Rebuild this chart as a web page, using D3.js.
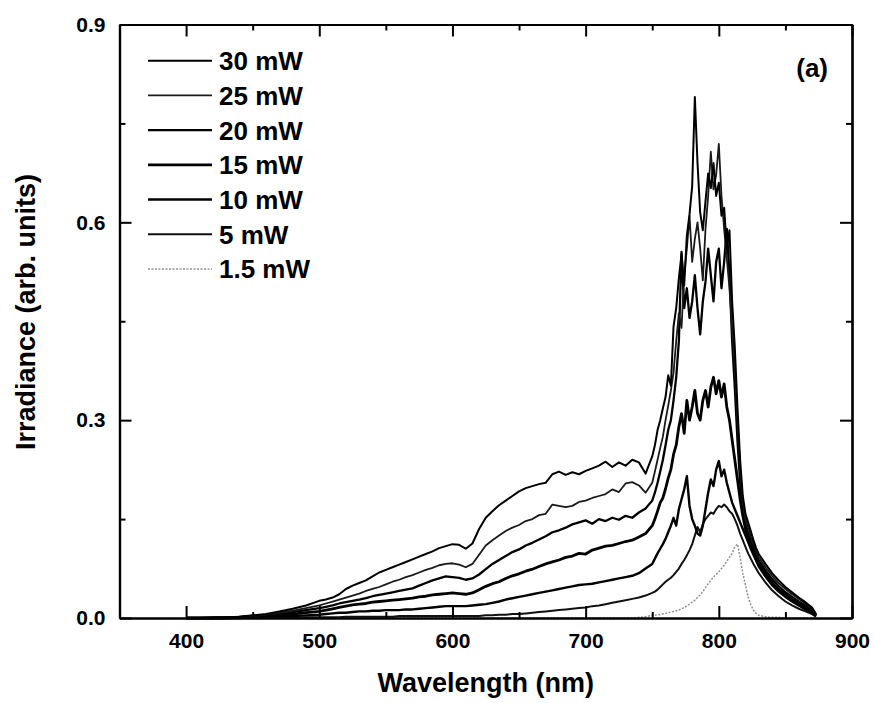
<!DOCTYPE html>
<html>
<head>
<meta charset="utf-8">
<script src="https://cdn.jsdelivr.net/npm/d3@7"></script>
<style>
  body { margin: 0; background: #fff; }
  text { font-family: 'Liberation Sans', Arial, sans-serif; font-weight: bold; fill: #000; }
</style>
</head>
<body>
<div class="chart"></div>
<script>
// wavelength grid (nm)
const wavelengths = [400,410,420,430,440,450,460,470,480,490,
  500,505,510,515,520,525,530,535,540,545,550,555,560,565,570,575,580,585,590,595,
  600,605,610,615,620,625,630,635,640,645,650,655,660,665,670,675,680,685,690,695,
  700,705,710,715,720,725,730,735,740,745,
  750,752,754,756,758,760,762,764,766,768,770,772,774,776,778,780,782,784,786,788,
  790,792,794,796,798,800,802,804,806,808,810,812,814,816,818,820,822,824,826,828,830,
  835,840,845,850,855,860,865,870,873];

const p30 = [0,0,0.001,0.001,0.002,0.004,0.006,0.010,0.014,0.019,
  0.026,0.028,0.031,0.036,0.044,0.049,0.053,0.057,0.063,0.069,
  0.073,0.077,0.081,0.085,0.089,0.093,0.097,0.101,0.106,0.109,
  0.112,0.111,0.105,0.113,0.135,0.152,0.162,0.171,0.178,0.185,
  0.192,0.197,0.200,0.203,0.205,0.218,0.222,0.217,0.221,0.218,
  0.223,0.227,0.231,0.237,0.229,0.236,0.231,0.240,0.236,0.219,
  0.245,0.262,0.285,0.300,0.318,0.335,0.368,0.352,0.442,0.470,
  0.515,0.552,0.505,0.580,0.612,0.655,0.790,0.690,0.615,0.588,
  0.632,0.674,0.652,0.690,0.640,0.660,0.610,0.622,0.560,0.588,
  0.480,0.410,0.320,0.240,0.185,0.158,0.145,0.132,0.118,0.106,0.097,
  0.082,0.068,0.057,0.047,0.039,0.031,0.024,0.016,0.006];

const p25 = [0,0,0,0.001,0.002,0.003,0.005,0.008,0.011,0.015,
  0.019,0.022,0.025,0.028,0.031,0.034,0.037,0.041,0.044,0.047,
  0.051,0.055,0.058,0.062,0.065,0.069,0.073,0.076,0.080,0.082,
  0.083,0.081,0.077,0.082,0.096,0.110,0.118,0.125,0.132,0.137,
  0.141,0.147,0.150,0.156,0.158,0.172,0.170,0.168,0.170,0.176,
  0.178,0.182,0.185,0.188,0.195,0.191,0.204,0.206,0.201,0.190,
  0.205,0.222,0.240,0.258,0.275,0.300,0.322,0.345,0.372,0.420,
  0.462,0.440,0.520,0.560,0.610,0.540,0.575,0.600,0.560,0.512,
  0.590,0.640,0.707,0.650,0.672,0.719,0.640,0.590,0.545,0.500,
  0.440,0.380,0.300,0.225,0.175,0.150,0.138,0.124,0.112,0.101,0.092,
  0.077,0.064,0.053,0.044,0.036,0.029,0.022,0.014,0.005];

const p20 = [0,0,0,0.001,0.001,0.002,0.004,0.006,0.009,0.012,
  0.015,0.017,0.019,0.022,0.024,0.026,0.028,0.030,0.033,0.035,
  0.037,0.039,0.041,0.043,0.045,0.049,0.053,0.057,0.060,0.063,
  0.062,0.061,0.058,0.060,0.066,0.074,0.082,0.088,0.094,0.100,
  0.104,0.110,0.114,0.119,0.124,0.130,0.133,0.137,0.142,0.145,
  0.148,0.143,0.150,0.147,0.152,0.149,0.155,0.152,0.160,0.166,
  0.178,0.190,0.205,0.222,0.240,0.262,0.285,0.300,0.330,0.365,
  0.420,0.555,0.470,0.500,0.455,0.480,0.520,0.470,0.430,0.480,
  0.510,0.560,0.520,0.480,0.540,0.560,0.500,0.540,0.590,0.520,
  0.420,0.350,0.270,0.205,0.165,0.142,0.130,0.117,0.106,0.096,0.087,
  0.072,0.059,0.048,0.039,0.032,0.025,0.019,0.012,0.004];

const p15 = [0,0,0,0,0.001,0.002,0.003,0.004,0.006,0.008,
  0.010,0.012,0.014,0.016,0.018,0.020,0.021,0.022,0.024,0.025,
  0.026,0.027,0.028,0.029,0.030,0.032,0.033,0.035,0.036,0.037,
  0.038,0.037,0.036,0.038,0.043,0.048,0.052,0.055,0.060,0.064,
  0.067,0.071,0.074,0.078,0.082,0.085,0.088,0.092,0.094,0.098,
  0.097,0.103,0.106,0.109,0.110,0.113,0.116,0.118,0.123,0.128,
  0.140,0.150,0.162,0.175,0.182,0.196,0.212,0.225,0.248,0.262,
  0.290,0.310,0.280,0.330,0.300,0.320,0.345,0.310,0.300,0.330,
  0.345,0.320,0.350,0.365,0.340,0.360,0.335,0.355,0.320,0.300,
  0.270,0.240,0.210,0.180,0.155,0.135,0.122,0.110,0.100,0.090,0.081,
  0.067,0.054,0.043,0.035,0.028,0.022,0.016,0.010,0.004];

const p10 = [0,0,0,0,0,0.001,0.001,0.002,0.003,0.004,
  0.005,0.006,0.007,0.008,0.008,0.009,0.010,0.010,0.011,0.011,
  0.012,0.012,0.012,0.013,0.013,0.014,0.015,0.016,0.017,0.018,
  0.018,0.018,0.018,0.019,0.020,0.021,0.023,0.025,0.028,0.030,
  0.032,0.034,0.036,0.038,0.040,0.042,0.044,0.046,0.048,0.050,
  0.051,0.052,0.054,0.056,0.058,0.060,0.062,0.064,0.068,0.075,
  0.082,0.090,0.098,0.105,0.112,0.120,0.130,0.140,0.152,0.140,
  0.165,0.180,0.195,0.215,0.170,0.150,0.140,0.128,0.125,0.140,
  0.165,0.190,0.210,0.200,0.225,0.238,0.215,0.225,0.205,0.190,
  0.175,0.165,0.155,0.145,0.135,0.125,0.115,0.105,0.096,0.087,0.078,
  0.063,0.050,0.040,0.032,0.025,0.019,0.013,0.008,0.003];

const p5 = [0,0,0,0,0,0,0,0,0.001,0.001,
  0.001,0.001,0.001,0.001,0.002,0.002,0.002,0.002,0.002,0.002,
  0.002,0.002,0.003,0.003,0.003,0.003,0.003,0.003,0.003,0.003,
  0.003,0.003,0.003,0.003,0.003,0.004,0.004,0.005,0.005,0.006,
  0.006,0.007,0.008,0.009,0.010,0.011,0.012,0.013,0.014,0.015,
  0.016,0.018,0.019,0.021,0.023,0.025,0.027,0.029,0.031,0.034,
  0.038,0.040,0.043,0.047,0.051,0.055,0.058,0.061,0.065,0.070,
  0.075,0.082,0.088,0.095,0.103,0.112,0.125,0.138,0.130,0.142,
  0.150,0.155,0.160,0.158,0.165,0.170,0.168,0.172,0.168,0.162,
  0.158,0.150,0.140,0.128,0.118,0.108,0.098,0.090,0.082,0.075,0.068,
  0.054,0.042,0.033,0.025,0.019,0.014,0.010,0.006,0.002];

const p1_5 = [0,0,0,0,0,0,0,0,0,0,
  0,0,0,0,0,0,0,0,0,0,
  0,0,0,0,0,0,0,0,0,0,
  0,0,0,0,0,0,0,0,0,0,
  0,0,0,0,0,0,0,0,0,0,
  0,0,0,0,0,0,0,0,0.001,0.002,
  0.004,0.004,0.005,0.005,0.006,0.007,0.008,0.009,0.010,0.011,
  0.012,0.014,0.016,0.018,0.021,0.024,0.027,0.031,0.035,0.040,
  0.046,0.052,0.057,0.062,0.066,0.070,0.075,0.080,0.086,0.092,
  0.098,0.108,0.112,0.092,0.068,0.050,0.032,0.020,0.012,0.007,0.004,
  0.002,0.001,0.001,0,0,0,0,0,0];

const seriesNames = ['30 mW', '25 mW', '20 mW', '15 mW', '10 mW', '5 mW', '1.5 mW'];
const seriesValues = [p30, p25, p20, p15, p10, p5, p1_5];

const xMajor = [400, 500, 600, 700, 800, 900];
const xMinor = [350, 450, 550, 650, 750, 850];
const yMajor = [0, 0.3, 0.6, 0.9];
const yMinor = [0.15, 0.45, 0.75];

const config = { width: 874, height: 703, left: 119.5, right: 852, top: 24.5, bottom: 618 };

const lineStyles = [
  { color: '#000', width: 2.0, dash: null },
  { color: '#1a1a1a', width: 1.8, dash: null },
  { color: '#000', width: 2.3, dash: null },
  { color: '#000', width: 2.8, dash: null },
  { color: '#000', width: 2.4, dash: null },
  { color: '#111', width: 2.0, dash: null },
  { color: '#909090', width: 1.5, dash: '2,1.5' }
];

const svg = d3.select('.chart').append('svg')
  .attr('width', config.width)
  .attr('height', config.height);

const x = d3.scaleLinear().domain([350, 900]).range([config.left, config.right]);
const y = d3.scaleLinear().domain([0, 0.9]).range([config.bottom, config.top]);

const line = d3.line()
  .x((d, i) => x(wavelengths[i]))
  .y(d => y(d));

// curves, lowest first so the strong ones sit on top
const series = seriesNames.map((name, i) => ({ name, values: seriesValues[i], style: lineStyles[i] }));

svg.append('g')
  .selectAll('path')
  .data(series.slice().reverse())
  .enter()
  .append('path')
  .attr('d', d => line(d.values))
  .attr('fill', 'none')
  .attr('stroke', d => d.style.color)
  .attr('stroke-width', d => d.style.width)
  .attr('stroke-dasharray', d => d.style.dash)
  .attr('stroke-linejoin', 'round');

// axes: ticks point inward on all four sides
function styleAxis(g) {
  g.select('.domain').attr('stroke-width', 2.2);
  g.selectAll('.tick line').attr('stroke-width', 2);
  g.selectAll('.tick text')
    .style('font-family', "'Liberation Sans', Arial, sans-serif")
    .style('font-weight', 'bold')
    .style('font-size', '21px')
    .attr('fill', '#000');
}

const atBottom = `translate(0,${config.bottom})`;
const atTop = `translate(0,${config.top})`;
const atLeft = `translate(${config.left},0)`;
const atRight = `translate(${config.right},0)`;

svg.append('g').attr('transform', atBottom)
  .call(d3.axisBottom(x).tickValues(xMajor).tickSizeInner(-12).tickSizeOuter(0).tickPadding(15))
  .call(styleAxis);
svg.append('g').attr('transform', atBottom)
  .call(d3.axisBottom(x).tickValues(xMinor).tickSizeInner(-6).tickSizeOuter(0).tickFormat(''))
  .call(styleAxis);
svg.append('g').attr('transform', atTop)
  .call(d3.axisTop(x).tickValues(xMajor).tickSizeInner(-12).tickSizeOuter(0).tickFormat(''))
  .call(styleAxis);
svg.append('g').attr('transform', atTop)
  .call(d3.axisTop(x).tickValues(xMinor).tickSizeInner(-6).tickSizeOuter(0).tickFormat(''))
  .call(styleAxis);

svg.append('g').attr('transform', atLeft)
  .call(d3.axisLeft(y).tickValues(yMajor).tickSizeInner(-12).tickSizeOuter(0).tickPadding(14).tickFormat(d3.format('.1f')))
  .call(styleAxis);
svg.append('g').attr('transform', atLeft)
  .call(d3.axisLeft(y).tickValues(yMinor).tickSizeInner(-6).tickSizeOuter(0).tickFormat(''))
  .call(styleAxis);
svg.append('g').attr('transform', atRight)
  .call(d3.axisRight(y).tickValues(yMajor).tickSizeInner(-12).tickSizeOuter(0).tickFormat(''))
  .call(styleAxis);
svg.append('g').attr('transform', atRight)
  .call(d3.axisRight(y).tickValues(yMinor).tickSizeInner(-6).tickSizeOuter(0).tickFormat(''))
  .call(styleAxis);

// axis titles
svg.append('text')
  .attr('x', (config.left + config.right) / 2)
  .attr('y', 692)
  .attr('text-anchor', 'middle')
  .attr('font-size', 27)
  .text('Wavelength (nm)');

svg.append('text')
  .attr('transform', 'translate(35,312) rotate(-90)')
  .attr('text-anchor', 'middle')
  .attr('font-size', 27)
  .text('Irradiance (arb. units)');

// panel label
svg.append('text')
  .attr('x', 828)
  .attr('y', 77)
  .attr('text-anchor', 'end')
  .attr('font-size', 26)
  .text('(a)');

// legend
const legend = svg.append('g')
  .selectAll('g')
  .data(series)
  .enter()
  .append('g')
  .attr('transform', (d, i) => `translate(0,${60.7 + i * 34.7})`);

legend.append('line')
  .attr('x1', 148)
  .attr('x2', 212)
  .attr('stroke', d => d.style.color)
  .attr('stroke-width', d => d.style.width)
  .attr('stroke-dasharray', d => d.style.dash);

legend.append('text')
  .attr('x', 219)
  .attr('y', 9.5)
  .attr('font-size', 26)
  .text(d => d.name);
</script>
</body>
</html>
